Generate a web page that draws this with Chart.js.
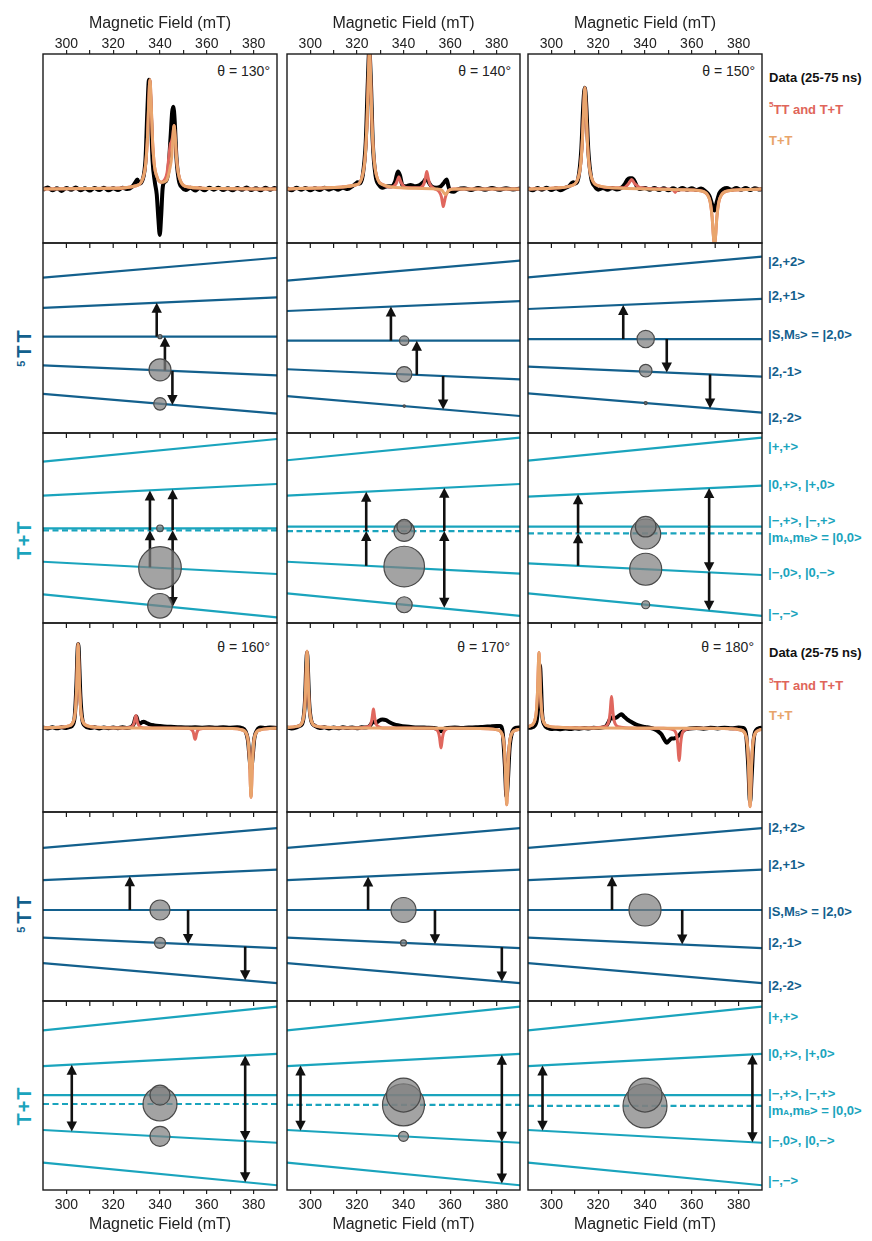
<!DOCTYPE html>
<html><head><meta charset="utf-8">
<script src="https://cdn.jsdelivr.net/npm/chart.js@4.4.1/dist/chart.umd.min.js"></script>
<style>
body{margin:0;background:#fff;width:872px;height:1241px;position:relative;overflow:hidden;font-family:"Liberation Sans",Arial,Helvetica,sans-serif;}
canvas{position:absolute;}
.t{position:absolute;white-space:nowrap;line-height:1;transform:translateY(-50%);}
.th{font-size:14px;color:#222;transform:translate(-100%,-50%);}
.lg{font-size:13px;font-weight:bold;}
.sq{font-size:13px;font-weight:bold;color:#13608d;}
.st{font-size:13px;font-weight:bold;color:#1aa4bd;}
.rot{position:absolute;white-space:nowrap;line-height:1;font-size:20px;font-weight:bold;transform:translate(-50%,-50%) rotate(-90deg);}
.sub{font-size:8px;}
.sup{font-size:8px;vertical-align:7px;}
</style></head><body>

<div class="t th" style="left:270px;top:71px">θ = 130°</div>
<div class="t th" style="left:511px;top:71px">θ = 140°</div>
<div class="t th" style="left:755px;top:71px">θ = 150°</div>
<div class="t th" style="left:270px;top:647px">θ = 160°</div>
<div class="t th" style="left:510px;top:647px">θ = 170°</div>
<div class="t th" style="left:754px;top:647px">θ = 180°</div>

<div class="t lg" style="left:769px;top:77px;color:#111">Data (25-75 ns)</div>
<div class="t lg" style="left:769px;top:108px;color:#e0655a"><span class="sup">5</span>TT and T+T</div>
<div class="t lg" style="left:769px;top:140px;color:#e8a46a">T+T</div>
<div class="t lg" style="left:769px;top:652px;color:#111">Data (25-75 ns)</div>
<div class="t lg" style="left:769px;top:684px;color:#e0655a"><span class="sup">5</span>TT and T+T</div>
<div class="t lg" style="left:769px;top:715px;color:#e8a46a">T+T</div>

<div class="t sq" style="left:768px;top:261px">|2,+2&gt;</div>
<div class="t sq" style="left:768px;top:295px">|2,+1&gt;</div>
<div class="t sq" style="left:768px;top:334px">|S,M<span class="sub">S</span>&gt; = |2,0&gt;</div>
<div class="t sq" style="left:768px;top:371px">|2,-1&gt;</div>
<div class="t sq" style="left:768px;top:417px">|2,-2&gt;</div>

<div class="t st" style="left:768px;top:446px">|+,+&gt;</div>
<div class="t st" style="left:768px;top:484px">|0,+&gt;, |+,0&gt;</div>
<div class="t st" style="left:768px;top:520px">|−,+&gt;, |−,+&gt;</div>
<div class="t st" style="left:768px;top:537px">|m<span class="sub">A</span>,m<span class="sub">B</span>&gt; = |0,0&gt;</div>
<div class="t st" style="left:768px;top:572px">|−,0&gt;, |0,−&gt;</div>
<div class="t st" style="left:768px;top:613px">|−,−&gt;</div>

<div class="t sq" style="left:768px;top:827px">|2,+2&gt;</div>
<div class="t sq" style="left:768px;top:864px">|2,+1&gt;</div>
<div class="t sq" style="left:768px;top:911px">|S,M<span class="sub">S</span>&gt; = |2,0&gt;</div>
<div class="t sq" style="left:768px;top:942px">|2,-1&gt;</div>
<div class="t sq" style="left:768px;top:985px">|2,-2&gt;</div>

<div class="t st" style="left:768px;top:1016px">|+,+&gt;</div>
<div class="t st" style="left:768px;top:1053px">|0,+&gt;, |+,0&gt;</div>
<div class="t st" style="left:768px;top:1093px">|−,+&gt;, |−,+&gt;</div>
<div class="t st" style="left:768px;top:1110px">|m<span class="sub">A</span>,m<span class="sub">B</span>&gt; = |0,0&gt;</div>
<div class="t st" style="left:768px;top:1140px">|−,0&gt;, |0,−&gt;</div>
<div class="t st" style="left:768px;top:1180px">|−,−&gt;</div>

<div class="rot" style="left:24px;top:347px;color:#13608d;letter-spacing:3px"><span style="font-size:11px;vertical-align:6px">5</span>TT</div>
<div class="rot" style="left:24px;top:540px;color:#1aa4bd;letter-spacing:1px">T+T</div>
<div class="rot" style="left:24px;top:913px;color:#13608d;letter-spacing:3px"><span style="font-size:11px;vertical-align:6px">5</span>TT</div>
<div class="rot" style="left:24px;top:1106px;color:#1aa4bd;letter-spacing:1px">T+T</div>

<script>
// ---------- axis values ----------
const FIELD_MIN = 290, FIELD_MAX = 390;
const tickFields = [300,310,320,330,340,350,360,370,380];
const labelFields = [300,320,340,360,380];

// ---------- EPR spectra [field mT, signal] ----------
const data130 = [[290,-0.005],[292,0.012],[294,-0.01],[296,0.006],[298,-0.014],[300,0.008],[302,-0.006],[304,0.012],[306,-0.01],[308,0.006],[310,-0.012],[312,0.008],[314,-0.008],[316,0.01],[318,-0.01],[320,0.006],[322,-0.008],[324,0.01],[326,0.0],[328,0.015],[329.5,0.05],[330.3,0.07],[331.2,0.04],[332.6,0.07],[333.8,0.22],[334.6,0.58],[335.3,0.81],[336,0.6],[336.8,0.22],[337.8,0.05],[338.6,-0.04],[339.3,-0.22],[339.9,-0.34],[340.5,-0.2],[341.1,0.0],[341.8,0.05],[342.6,0.06],[343.6,0.14],[344.5,0.38],[345.2,0.57],[345.7,0.61],[346.3,0.5],[347,0.24],[348,0.07],[349.5,0.01],[351,-0.008],[353,0.01],[355,-0.012],[357,0.008],[359,-0.01],[361,0.01],[363,-0.006],[365,0.01],[367,-0.008],[369,0.006],[371,-0.01],[373,0.008],[375,-0.006],[377,0.012],[379,-0.008],[381,0.006],[383,-0.01],[385,0.01],[387,-0.006],[389,0.008],[390,0.0]];
const sim5TT130 = [[290,0],[320,0.005],[329.7,0.024],[332.7,0.08],[333.9,0.19],[334.7,0.4],[335.2,0.65],[335.7,0.81],[336.2,0.65],[336.7,0.4],[337.5,0.19],[338.7,0.09],[340.5,0.05],[342,0.07],[343,0.12],[343.8,0.24],[344.4,0.33],[344.9,0.35],[345.5,0.4],[346,0.47],[346.5,0.38],[347,0.24],[347.8,0.12],[349,0.05],[352,0.015],[365,0.003],[390,0]];
const simTT130 = [[290,0],[320,0.005],[329.7,0.024],[332.7,0.08],[333.9,0.19],[334.7,0.4],[335.2,0.65],[335.7,0.81],[336.2,0.65],[336.7,0.4],[337.5,0.19],[338.7,0.09],[340.5,0.05],[342,0.055],[343,0.07],[344.2,0.15],[345,0.24],[345.5,0.38],[346,0.47],[346.5,0.38],[347,0.24],[347.8,0.12],[349,0.05],[352,0.015],[365,0.003],[390,0]];

const data140 = [[290,0.005],[292,-0.01],[294,0.01],[296,-0.006],[298,0.008],[300,-0.01],[302,0.005],[304,-0.008],[306,0.01],[308,-0.005],[310,0.008],[312,-0.006],[314,0.01],[316,0.0],[318,0.02],[319.5,0.04],[320.3,0.05],[321.2,0.04],[322.5,0.1],[323.8,0.35],[324.7,0.8],[325.3,1.03],[326,0.8],[326.8,0.35],[328,0.1],[329.5,0.03],[331,0.01],[333,0.02],[335,0.02],[336.5,0.06],[337.6,0.13],[338.5,0.1],[339.5,0.03],[341,0.02],[343,0.03],[345,0.02],[347,0.03],[348.5,0.05],[349.8,0.08],[350.8,0.05],[352,0.02],[354,0.01],[356,0.02],[357.5,0.05],[358.5,0.07],[359.3,0.02],[360,-0.015],[361.5,-0.02],[363,-0.005],[366,0.005],[369,-0.008],[372,0.008],[375,-0.005],[378,0.008],[381,-0.006],[384,0.006],[387,-0.004],[390,0.004]];
const sim5TT140 = [[290,0],[305,0.008],[319.4,0.03],[322.4,0.1],[323.6,0.25],[324.4,0.52],[324.9,0.82],[325.4,1.03],[325.9,0.82],[326.4,0.52],[327.2,0.25],[328.4,0.1],[331.4,0.03],[335,0.015],[336.8,0.04],[337.5,0.07],[338,0.09],[338.5,0.07],[339.2,0.04],[341,0.012],[347,0.01],[348.8,0.04],[349.5,0.09],[350,0.13],[350.5,0.09],[351.2,0.04],[353,0.005],[355.3,-0.02],[356.3,-0.06],[356.7,-0.1],[357.1,-0.13],[357.5,-0.1],[358,-0.06],[359,-0.02],[361,0],[390,0]];
const simTT140 = [[290,0],[305,0.008],[319.4,0.03],[322.4,0.1],[323.6,0.25],[324.4,0.52],[324.9,0.82],[325.4,1.03],[325.9,0.82],[326.4,0.52],[327.2,0.25],[328.4,0.1],[331.4,0.03],[340,0.008],[354,0.0],[356.5,-0.01],[357.4,-0.03],[358,-0.04],[358.6,-0.03],[359.5,-0.01],[362,0],[390,0]];

const data150 = [[290,0.005],[292,-0.01],[294,0.008],[296,-0.006],[298,0.01],[300,-0.008],[302,0.006],[304,-0.01],[306,0.008],[307.5,0.02],[308.5,0.04],[309.3,0.05],[310.2,0.04],[311.5,0.08],[312.8,0.3],[313.7,0.65],[314.3,0.75],[314.9,0.62],[315.8,0.28],[317,0.08],[318.5,0.02],[320,-0.005],[322,0.008],[324,-0.006],[326,0.008],[328,-0.004],[330,0.01],[331.5,0.04],[332.5,0.07],[333.5,0.08],[334.5,0.08],[335.5,0.06],[336.5,0.02],[338,0.0],[340,0.008],[342,-0.006],[344,0.008],[346,-0.008],[348,0.006],[350,-0.01],[352,0.006],[354,-0.008],[356,0.008],[358,-0.006],[360,0.006],[362,-0.008],[364,0.004],[366,-0.02],[367.5,-0.05],[368.8,-0.12],[369.7,-0.16],[370.6,-0.1],[371.8,-0.03],[373.5,0.0],[375,0.008],[377,-0.006],[379,0.008],[381,-0.006],[383,0.008],[385,-0.008],[387,0.006],[389,-0.004],[390,0.0]];
const sim5TT150 = [[290,0],[300,0.006],[308.3,0.023],[311.3,0.075],[312.5,0.18],[313.3,0.38],[313.8,0.6],[314.3,0.75],[314.8,0.6],[315.3,0.38],[316.1,0.18],[317.3,0.075],[320.3,0.023],[326,0.01],[331,0.01],[333,0.04],[334.3,0.07],[335.6,0.04],[338,0.01],[350,0.0],[352.2,-0.01],[352.9,-0.025],[353.6,-0.01],[355,-0.005],[363.7,-0.013],[366.7,-0.042],[367.9,-0.1],[368.7,-0.21],[369.2,-0.34],[369.7,-0.42],[370.2,-0.34],[370.7,-0.21],[371.5,-0.1],[372.7,-0.042],[375.7,-0.013],[385,-0.003],[390,0]];
const simTT150 = [[290,0],[300,0.006],[308.3,0.023],[311.3,0.075],[312.5,0.18],[313.3,0.38],[313.8,0.6],[314.3,0.75],[314.8,0.6],[315.3,0.38],[316.1,0.18],[317.3,0.075],[320.3,0.023],[330,0.006],[355,-0.005],[363.7,-0.013],[366.7,-0.042],[367.9,-0.1],[368.7,-0.21],[369.2,-0.34],[369.7,-0.42],[370.2,-0.34],[370.7,-0.21],[371.5,-0.1],[372.7,-0.042],[375.7,-0.013],[385,-0.003],[390,0]];

const data160 = [[290,0.004],[292,-0.004],[294,0.006],[296,-0.003],[298,0.006],[300,0.0],[301.5,0.01],[302.7,0.03],[303.6,0.12],[304.3,0.42],[304.8,0.75],[305.1,0.8],[305.5,0.6],[306,0.3],[306.8,0.08],[308,0.02],[310,0.0],[312,0.006],[314,-0.004],[316,0.005],[318,-0.003],[320,0.005],[322,-0.002],[324,0.006],[326,0.0],[327.8,0.01],[328.8,0.04],[329.5,0.1],[329.9,0.11],[330.4,0.07],[331.2,0.04],[332.3,0.055],[333,0.06],[334,0.05],[335.5,0.035],[337.5,0.025],[340,0.018],[343,0.012],[346,0.01],[349,0.006],[352,0.004],[355,0.006],[358,0.003],[361,0.006],[364,0.002],[367,0.007],[370,0.003],[373,0.006],[375,0.0],[376.5,-0.03],[377.6,-0.12],[378.4,-0.32],[378.9,-0.4],[379.5,-0.3],[380.3,-0.1],[381.5,-0.02],[383,0.005],[385,0.0],[387,0.005],[390,0.0]];
const sim5TT160 = [[290,0.003],[297,0.006],[301,0.02],[303,0.064],[303.9,0.18],[304.4,0.4],[304.7,0.64],[305,0.8],[305.3,0.64],[305.6,0.4],[306.1,0.18],[307,0.064],[309,0.02],[313,0.006],[325,0.0],[327.7,0.01],[328.6,0.03],[329.1,0.06],[329.4,0.1],[329.7,0.12],[330,0.1],[330.3,0.06],[330.8,0.03],[331.7,0.01],[334,0.0],[352,-0.002],[353.9,-0.025],[354.4,-0.055],[354.7,-0.09],[355,-0.11],[355.3,-0.09],[355.6,-0.055],[356.1,-0.025],[357,-0.01],[360,-0.003],[370.9,-0.005],[374.9,-0.017],[376.9,-0.053],[377.8,-0.15],[378.3,-0.33],[378.6,-0.53],[378.9,-0.66],[379.2,-0.53],[379.5,-0.33],[380,-0.15],[380.9,-0.053],[382.9,-0.017],[386.9,-0.005],[390,-0.003]];
const simTT160 = [[290,0.003],[297,0.006],[301,0.02],[303,0.064],[303.9,0.18],[304.4,0.4],[304.7,0.64],[305,0.8],[305.3,0.64],[305.6,0.4],[306.1,0.18],[307,0.064],[309,0.02],[313,0.006],[325,0.0],[360,-0.003],[370.9,-0.005],[374.9,-0.017],[376.9,-0.053],[377.8,-0.15],[378.3,-0.33],[378.6,-0.53],[378.9,-0.66],[379.2,-0.53],[379.5,-0.33],[380,-0.15],[380.9,-0.053],[382.9,-0.017],[386.9,-0.005],[390,-0.003]];

const data170 = [[290,0.004],[292,-0.004],[294,0.006],[295.5,0.02],[296.8,0.06],[297.7,0.25],[298.3,0.62],[298.6,0.72],[299,0.55],[299.5,0.25],[300.4,0.07],[302,0.02],[304,0.0],[306,0.006],[308,-0.004],[310,0.005],[312,-0.003],[314,0.006],[316,0.0],[318,0.005],[320,-0.003],[322,0.006],[324,0.004],[325.5,0.02],[326.5,0.05],[327.3,0.06],[328.3,0.05],[329.5,0.07],[331,0.08],[332.5,0.075],[334,0.055],[336,0.035],[338,0.025],[341,0.014],[344,0.008],[347,0.005],[350,0.003],[353,0.0],[355,-0.012],[356.1,-0.03],[357.2,-0.01],[359,0.0],[362,0.004],[365,0.0],[368,0.005],[371,0.006],[374,0.01],[377,0.015],[380,0.02],[381.5,0.02],[382.6,-0.05],[383.5,-0.35],[384.2,-0.65],[384.8,-0.5],[385.5,-0.2],[386.5,-0.05],[388,0.0],[390,0.005]];
const sim5TT170 = [[290,0.005],[294.6,0.018],[296.6,0.058],[297.5,0.17],[298,0.37],[298.3,0.58],[298.6,0.73],[298.9,0.58],[299.2,0.37],[299.7,0.17],[300.6,0.058],[302.6,0.018],[306.6,0.006],[320,0.0],[325.1,0.014],[326,0.04],[326.5,0.09],[326.8,0.14],[327.1,0.18],[327.4,0.14],[327.7,0.09],[328.2,0.04],[329.1,0.014],[331,0.0],[353,-0.003],[354.1,-0.015],[355,-0.044],[355.5,-0.095],[355.8,-0.15],[356.1,-0.19],[356.4,-0.15],[356.7,-0.095],[357.2,-0.044],[358.1,-0.015],[360,-0.003],[376.3,-0.006],[380.3,-0.018],[382.3,-0.058],[383.2,-0.17],[383.7,-0.37],[384,-0.58],[384.3,-0.73],[384.6,-0.58],[384.9,-0.37],[385.4,-0.17],[386.3,-0.058],[388.3,-0.02],[390,-0.012]];
const simTT170 = [[290,0.005],[294.6,0.018],[296.6,0.058],[297.5,0.17],[298,0.37],[298.3,0.58],[298.6,0.73],[298.9,0.58],[299.2,0.37],[299.7,0.17],[300.6,0.058],[302.6,0.018],[306.6,0.006],[320,0.0],[360,-0.003],[376.3,-0.006],[380.3,-0.018],[382.3,-0.058],[383.2,-0.17],[383.7,-0.37],[384,-0.58],[384.3,-0.73],[384.6,-0.58],[384.9,-0.37],[385.4,-0.17],[386.3,-0.058],[388.3,-0.02],[390,-0.012]];

const data180 = [[290,0.0],[291.5,0.005],[292.8,0.02],[293.8,0.08],[294.6,0.3],[295.1,0.6],[295.5,0.45],[296,0.15],[297,0.03],[298.5,0.0],[300,-0.01],[302,-0.006],[304,-0.012],[306,-0.004],[308,-0.01],[310,-0.003],[312,-0.008],[314,0.0],[316,-0.005],[318,0.002],[320,0.0],[322,0.006],[323.5,0.02],[324.5,0.06],[325.5,0.1],[326.5,0.09],[327.8,0.1],[329,0.12],[330,0.13],[331,0.11],[332.5,0.08],[334,0.06],[336,0.035],[338,0.02],[340,0.01],[342,0.002],[344,-0.01],[345.5,-0.03],[347,-0.06],[348.3,-0.11],[349.3,-0.14],[350.3,-0.12],[351.3,-0.1],[352.3,-0.1],[353.3,-0.09],[354.5,-0.07],[355.7,-0.04],[357,-0.015],[359,-0.005],[362,0.0],[365,-0.006],[368,0.002],[371,-0.004],[374,0.003],[377,-0.002],[380,0.004],[382,0.0],[383.2,-0.06],[384.1,-0.35],[384.9,-0.7],[385.6,-0.45],[386.4,-0.12],[387.5,-0.02],[389,0.0],[390,0.003]];
const sim5TT180 = [[290,0.012],[290.7,0.018],[292.7,0.058],[293.6,0.166],[294.1,0.36],[294.4,0.576],[294.7,0.72],[295,0.576],[295.3,0.36],[295.8,0.166],[296.7,0.058],[298.7,0.018],[302.7,0.006],[315,0.0],[321.7,0.008],[323.7,0.024],[324.6,0.07],[325.1,0.15],[325.4,0.24],[325.7,0.3],[326,0.24],[326.3,0.15],[326.8,0.07],[327.7,0.024],[329.7,0.008],[333,0.0],[348,-0.003],[350.6,-0.008],[352.6,-0.025],[353.5,-0.07],[354,-0.155],[354.3,-0.25],[354.6,-0.31],[354.9,-0.25],[355.2,-0.155],[355.7,-0.07],[356.6,-0.025],[358.6,-0.008],[362,-0.003],[376.9,-0.006],[380.9,-0.019],[382.9,-0.06],[383.8,-0.17],[384.3,-0.375],[384.6,-0.6],[384.9,-0.75],[385.2,-0.6],[385.5,-0.375],[386,-0.17],[386.9,-0.06],[388.9,-0.019],[390,-0.014]];
const simTT180 = [[290,0.012],[290.7,0.018],[292.7,0.058],[293.6,0.166],[294.1,0.36],[294.4,0.576],[294.7,0.72],[295,0.576],[295.3,0.36],[295.8,0.166],[296.7,0.058],[298.7,0.018],[302.7,0.006],[315,0.0],[360,-0.003],[376.9,-0.006],[380.9,-0.019],[382.9,-0.06],[383.8,-0.17],[384.3,-0.375],[384.6,-0.6],[384.9,-0.75],[385.2,-0.6],[385.5,-0.375],[386,-0.17],[386.9,-0.06],[388.9,-0.019],[390,-0.014]];

// ---------- energy levels: [E at 290 mT, E at 390 mT] ----------
// 5TT (quintet) levels |2,+2>,|2,+1>,|2,0>,|2,-1>,|2,-2>
const q130Levels = [[0.635,0.845],[0.318,0.428],[0.014,0.014],[-0.288,-0.393],[-0.589,-0.797]];
const q130Arrows = [[338.6,0.014,0.371],[342.1,-0.343,0.014],[345.3,-0.346,-0.704]];
const q130Pops = [[340,0.014,2],[340,-0.335,11],[340,-0.693,6.3]];
const q140Levels = [[0.603,0.814],[0.284,0.389],[-0.028,-0.028],[-0.329,-0.435],[-0.611,-0.821]];
const q140Arrows = [[334.6,-0.028,0.331],[345.7,-0.388,-0.028],[357,-0.40,-0.752]];
const q140Pops = [[340.3,-0.028,4.7],[340.3,-0.382,7.7],[340.3,-0.717,1.2]];
const q150Levels = [[0.639,0.856],[0.305,0.411],[-0.011,-0.011],[-0.302,-0.407],[-0.582,-0.786]];
const q150Arrows = [[330.7,-0.011,0.348],[349.3,-0.011,-0.364],[367.8,-0.384,-0.741]];
const q150Pops = [[340.3,-0.011,8.7],[340.3,-0.344,6.3],[340.3,-0.685,1.5]];
const q160Levels = [[0.62,0.83],[0.28,0.39],[-0.037,-0.037],[-0.33,-0.44],[-0.60,-0.81]];
const q160Arrows = [[327.1,-0.037,0.32],[352,-0.037,-0.398],[376.4,-0.425,-0.78]];
const q160Pops = [[340,-0.037,10],[340,-0.385,5.5]];
const q170Levels = [[0.62,0.83],[0.28,0.39],[-0.037,-0.037],[-0.33,-0.44],[-0.60,-0.81]];
const q170Arrows = [[324.8,-0.037,0.318],[353.5,-0.037,-0.40],[382.2,-0.431,-0.794]];
const q170Pops = [[340,-0.037,12.5],[340,-0.385,3]];
const q180Levels = [[0.62,0.83],[0.28,0.39],[-0.037,-0.037],[-0.33,-0.44],[-0.60,-0.81]];
const q180Arrows = [[325.9,-0.037,0.319],[355.9,-0.037,-0.402]];
const q180Pops = [[340,-0.037,16]];

// T+T levels |+,+>,|0,+>,|-,+>,|-,0>,|-,-> and dashed |0,0>
const t130Levels = [[0.698,0.937],[0.340,0.463],[-0.003,-0.003],[-0.355,-0.484],[-0.698,-0.940]];
const t130Dashed = [-0.024,-0.024];
const t130Arrows = [[335.7,-0.414,-0.024],[335.7,-0.024,0.396],[345.4,-0.426,-0.024],[345.4,-0.024,0.408],[345.4,-0.426,-0.832]];
const t130Pops = [[340,-0.003,3.3],[340,-0.42,21.3],[340,-0.819,12.3]];
const t140Levels = [[0.713,0.951],[0.340,0.463],[0.014,0.014],[-0.355,-0.481],[-0.688,-0.926]];
const t140Dashed = [-0.032,-0.032];
const t140Arrows = [[324.0,-0.398,-0.032],[324.0,-0.032,0.382],[357.5,-0.45,-0.032],[357.5,-0.032,0.423],[357.5,-0.45,-0.84]];
const t140Pops = [[340.3,-0.032,10.3],[340.3,0.014,7.3],[340.3,-0.406,20.3],[340.3,-0.808,8]];
const t150Levels = [[0.709,0.951],[0.330,0.446],[0.014,0.014],[-0.372,-0.495],[-0.688,-0.926]];
const t150Dashed = [-0.056,-0.056];
const t150Arrows = [[311.4,-0.398,-0.056],[311.4,-0.056,0.355],[367.4,0.014,0.42],[367.4,0.014,-0.467],[367.4,-0.467,-0.872]];
const t150Pops = [[340.3,-0.063,15],[340.3,0.014,10.3],[340.3,-0.434,16],[340.3,-0.808,4]];
const t160Levels = [[0.69,0.94],[0.31,0.44],[0.005,0.005],[-0.365,-0.50],[-0.71,-0.95]];
const t160Dashed = [-0.09,-0.09];
const t160Arrows = [[302.3,0.005,0.326],[302.3,0.005,-0.382],[376.4,0.005,0.422],[376.4,0.005,-0.482],[376.4,-0.482,-0.917]];
const t160Pops = [[340,-0.09,17],[340,0.005,10],[340,-0.4325,10]];
const t170Levels = [[0.69,0.94],[0.31,0.44],[0.005,0.005],[-0.365,-0.50],[-0.71,-0.95]];
const t170Dashed = [-0.10,-0.10];
const t170Arrows = [[295.8,0.005,0.318],[295.8,0.005,-0.373],[382.2,0.005,0.43],[382.2,0.005,-0.489],[382.2,-0.489,-0.931]];
const t170Pops = [[340,-0.10,21],[340,0.005,17],[340,-0.4325,5]];
const t180Levels = [[0.69,0.94],[0.31,0.44],[0.005,0.005],[-0.365,-0.50],[-0.71,-0.95]];
const t180Dashed = [-0.11,-0.11];
const t180Arrows = [[296.2,0.005,0.318],[296.2,0.005,-0.373],[385.9,0.005,0.435],[385.9,0.005,-0.494]];
const t180Pops = [[340,-0.11,22],[340,0.005,17]];

// ---------- layout ----------
const FONT = '"Liberation Sans", Arial, Helvetica, sans-serif';
const COLS = [{left:43,w:234},{left:287,w:233},{left:528,w:234}];
const ROWS = [{top:54,h:189},{top:243,h:190},{top:433,h:190},{top:623,h:189},{top:812,h:189},{top:1001,h:189}];
const PAD = 4;
const C_Q = '#13608d', C_T = '#1aa4bd';

const framePlugin = {
  id:'frame',
  afterDatasetsDraw(chart, args, opts){
    const {ctx, chartArea:a} = chart; const x = chart.scales.x;
    ctx.save();
    ctx.strokeStyle = '#1a1a1a'; ctx.lineWidth = 1.4;
    ctx.strokeRect(a.left, a.top, a.right-a.left, a.bottom-a.top);
    if (opts.inward) {
      ctx.lineWidth = 1.2; ctx.beginPath();
      tickFields.forEach(v => { const px = x.getPixelForValue(v); ctx.moveTo(px, a.top); ctx.lineTo(px, a.top+5); });
      ctx.stroke();
    }
    ctx.restore();
  }
};
const arrowPlugin = {
  id:'arrows',
  beforeDatasetDraw(chart, args){
    const ds = chart.data.datasets[args.index];
    if (!ds.arrows) return;
    const {ctx} = chart; const x = chart.scales.x, y = chart.scales.y;
    ctx.save(); ctx.fillStyle = '#111'; ctx.strokeStyle = '#111'; ctx.lineWidth = 2.6;
    ds.arrows.forEach(([f, e1, e2]) => {
      const px = x.getPixelForValue(f), p1 = y.getPixelForValue(e1), p2 = y.getPixelForValue(e2);
      const dir = p2 < p1 ? -1 : 1; const hl = 10, hw = 5.2;
      ctx.beginPath(); ctx.moveTo(px, p1); ctx.lineTo(px, p2 - dir*hl*0.7); ctx.stroke();
      ctx.beginPath(); ctx.moveTo(px, p2); ctx.lineTo(px-hw, p2-dir*hl); ctx.lineTo(px+hw, p2-dir*hl); ctx.closePath(); ctx.fill();
    });
    ctx.restore();
  }
};

function makeChart(col, row, datasets, yRange){
  const c = COLS[col], r = ROWS[row];
  const top = row === 0 ? 0 : r.top - PAD;
  const bottomAxisH = 1241 - (r.top + r.h);
  const bottomExtra = row === 5 ? bottomAxisH : PAD;
  const h = (r.top - top) + r.h + bottomExtra, w = c.w + 2*PAD;
  const cv = document.createElement('canvas');
  cv.width = w; cv.height = h;
  cv.style.left = (c.left - PAD) + 'px'; cv.style.top = top + 'px';
  cv.style.width = w + 'px'; cv.style.height = h + 'px';
  document.body.appendChild(cv);
  const showAxis = row === 0 || row === 5;
  const xScale = {type:'linear', min:FIELD_MIN, max:FIELD_MAX, display:showAxis, position: row===0 ? 'top' : 'bottom',
           afterBuildTicks: ax => { ax.ticks = tickFields.map(v => ({value:v})); },
           ticks:{callback: v => labelFields.includes(v) ? String(v) : '', autoSkip:false, maxRotation:0,
                  font:{size:14, family:FONT}, color:'#222', padding: row===0 ? -3 : 3},
           grid:{drawOnChartArea:false, drawTicks:true, tickLength:4, color:'#222', lineWidth:1.2},
           border:{display:false},
           title:{display:true, text:'Magnetic Field (mT)', color:'#222', font:{size:16, family:FONT},
                  padding: row===0 ? {top:14, bottom:0} : {top:0, bottom:7}}};
  if (showAxis) xScale.afterFit = ax => { ax.height = row===0 ? 54 : bottomAxisH; };
  new Chart(cv, {
    type:'line',
    data:{datasets},
    options:{
      responsive:false, animation:false, events:[], devicePixelRatio:1,
      layout:{autoPadding:false, padding:{left:PAD, right:PAD, top: row===0 ? 0 : PAD, bottom: row===5 ? 0 : PAD}},
      plugins:{legend:{display:false}, tooltip:{enabled:false}, frame:{inward: row>0}},
      scales:{
        x: xScale,
        y:{type:'linear', min:yRange[0], max:yRange[1], display:false}
      }
    },
    plugins:[framePlugin, arrowPlugin]
  });
}

function spectrum(col, row, data, sim5TT, simTT, yRange){
  const base = {type:'line', pointRadius:0, fill:false, cubicInterpolationMode:'monotone'};
  makeChart(col, row, [
    Object.assign({}, base, {data:simTT, borderColor:'#e9a56d', borderWidth:3}),
    Object.assign({}, base, {data:sim5TT, borderColor:'#e0675e', borderWidth:3}),
    Object.assign({}, base, {data:data, borderColor:'#000', borderWidth:4})
  ], yRange);
}
function levelPanel(col, row, levels, dashed, arrows, pops, color){
  const ds = [{type:'bubble', data: pops.map(p => ({x:p[0], y:p[1], r:p[2]})), arrows: arrows,
               backgroundColor:'rgba(128,128,128,0.72)', borderColor:'#4a4a4a', borderWidth:1.2}];
  levels.forEach(l => ds.push({type:'line', data:[[FIELD_MIN,l[0]],[FIELD_MAX,l[1]]], borderColor:color, borderWidth:2.2, pointRadius:0, fill:false}));
  if (dashed) ds.push({type:'line', data:[[FIELD_MIN,dashed[0]],[FIELD_MAX,dashed[1]]], borderColor:color, borderWidth:2.2, borderDash:[6,3.5], pointRadius:0, fill:false});
  makeChart(col, row, ds, [-1, 1]);
}

spectrum(0,0,data130,sim5TT130,simTT130,[-0.4,1]);
spectrum(1,0,data140,sim5TT140,simTT140,[-0.4,1]);
spectrum(2,0,data150,sim5TT150,simTT150,[-0.4,1]);
levelPanel(0,1,q130Levels,null,q130Arrows,q130Pops,C_Q);
levelPanel(1,1,q140Levels,null,q140Arrows,q140Pops,C_Q);
levelPanel(2,1,q150Levels,null,q150Arrows,q150Pops,C_Q);
levelPanel(0,2,t130Levels,t130Dashed,t130Arrows,t130Pops,C_T);
levelPanel(1,2,t140Levels,t140Dashed,t140Arrows,t140Pops,C_T);
levelPanel(2,2,t150Levels,t150Dashed,t150Arrows,t150Pops,C_T);
spectrum(0,3,data160,sim5TT160,simTT160,[-0.8,1]);
spectrum(1,3,data170,sim5TT170,simTT170,[-0.8,1]);
spectrum(2,3,data180,sim5TT180,simTT180,[-0.8,1]);
levelPanel(0,4,q160Levels,null,q160Arrows,q160Pops,C_Q);
levelPanel(1,4,q170Levels,null,q170Arrows,q170Pops,C_Q);
levelPanel(2,4,q180Levels,null,q180Arrows,q180Pops,C_Q);
levelPanel(0,5,t160Levels,t160Dashed,t160Arrows,t160Pops,C_T);
levelPanel(1,5,t170Levels,t170Dashed,t170Arrows,t170Pops,C_T);
levelPanel(2,5,t180Levels,t180Dashed,t180Arrows,t180Pops,C_T);
</script>
</body></html>
